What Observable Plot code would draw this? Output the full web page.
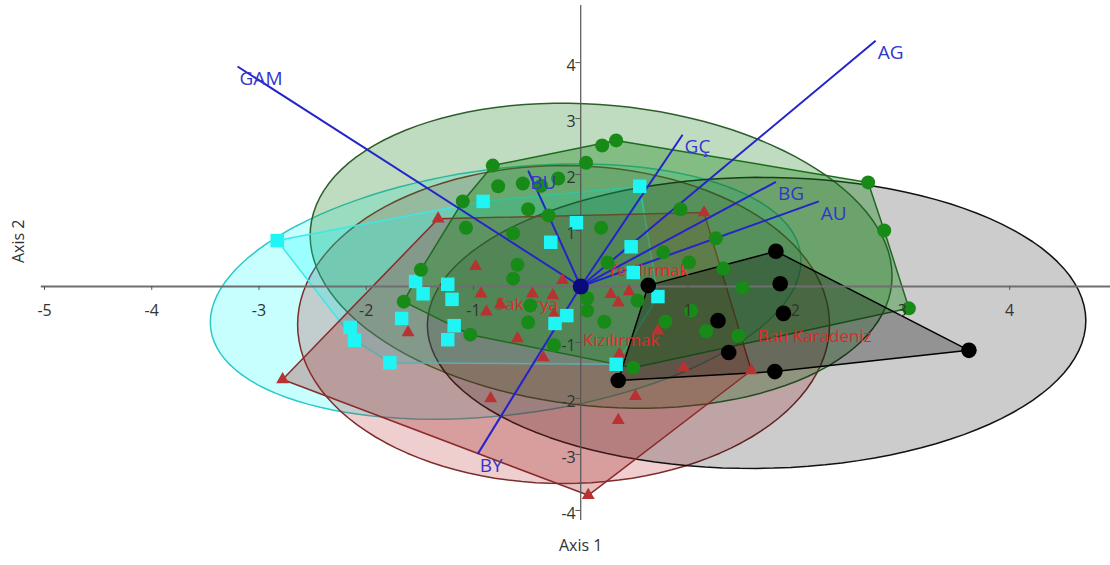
<!DOCTYPE html>
<html><head><meta charset="utf-8">
<script src="https://cdn.jsdelivr.net/npm/d3@7"></script>
<script src="https://cdn.jsdelivr.net/npm/@observablehq/plot@0.6"></script>
<style>body{margin:0;background:#fff} #chart svg{display:block}</style>
</head><body><div id="chart"></div><script>
// ---------- DATA ----------
const groupNames = ["Kızılırmak", "Sakarya", "Yeşilırmak", "Batı Karadeniz"];

// Kızılırmak (red triangles)
const kizX = [-1.33, 1.15, -0.98, -0.93, -0.88, -1.61, -2.78, -0.84, -0.75, -0.45, -0.26, -0.17, 0.28, 0.35, 0.45, -0.25, -0.59, -0.35, 0.36, 0.51, 0.96, 1.59, 0.35, 0.07, 0.72];
const kizY = [1.21, 1.32, 0.36, -0.13, -0.45, -0.82, -1.66, -2.00, -0.32, -0.13, -0.16, 0.11, -0.14, -0.29, -0.09, -0.50, -0.93, -1.27, -1.21, -1.96, -1.45, -1.50, -2.39, -3.73, -0.79];

// Sakarya (cyan squares)
const sakX = [-2.83, -0.91, 0.55, -0.04, -0.28, 0.47, 0.49, 0.72, -1.54, -1.47, -1.24, -1.20, -1.67, -2.15, -2.11, -1.18, -1.24, -1.78, -0.24, -0.13, 0.33];
const sakY = [0.82, 1.52, 1.79, 1.14, 0.79, 0.71, 0.25, -0.18, 0.09, -0.13, 0.04, -0.23, -0.57, -0.73, -0.96, -0.70, -0.95, -1.36, -0.66, -0.52, -1.39];

// Yeşilırmak (green circles)
const yesX = [-0.82, 0.20, 0.33, 0.05, -0.77, -0.54, -0.37, -0.21, -1.10, -1.07, -0.49, -0.30, -0.63, 0.19, 0.93, -1.49, -0.59, -0.63, 0.77, 1.01, 1.33, 1.26, 1.51, 1.03, 1.17, 1.47, 0.79, 0.53, 0.22, 0.06, 0.06, 0.49, -0.25, -0.49, -0.47, -1.03, -1.65, 2.68, 2.83, 3.06, 0.25];
const yesY = [2.16, 2.52, 2.61, 2.21, 1.79, 1.84, 1.80, 1.93, 1.52, 1.05, 1.38, 1.27, 0.95, 1.05, 1.38, 0.30, 0.39, 0.14, 0.61, 0.43, 0.32, 0.86, -0.02, -0.43, -0.80, -0.88, -0.63, -0.25, -0.63, -0.21, -0.43, -1.45, -1.05, -0.64, -0.34, -0.86, -0.27, 1.86, 1.00, -0.39, 0.43];

// Batı Karadeniz (black circles)
const batX = [0.63, 1.82, 1.86, 1.89, 1.28, 1.38, 0.35, 1.81, 3.62];
const batY = [0.02, 0.63, 0.05, -0.48, -0.61, -1.18, -1.68, -1.52, -1.14];

// Biplot variable vectors
const varNames = ["GAM", "AG", "GÇ", "BG", "AU", "BU", "BY"];
const varX = [-3.20, 2.75, 0.95, 1.82, 2.22, -0.49, -0.96];
const varY = [3.93, 4.39, 2.71, 1.87, 1.52, 2.07, -2.99];

// Group label anchors
const labelX = [0.02, -0.79, 0.25, 1.65];
const labelY = [-0.96, -0.32, 0.29, -0.89];

// 95% ellipses: centre and two conjugate semi-axes (data units)
const ellCx = [-0.16, -0.70, 0.19, 1.64];
const ellCy = [-0.68, -0.09, 0.55, -0.65];
const ellUx = [2.48, 2.75, 2.71, 3.07];
const ellUy = [0.00, 0.67, -0.49, 0.04];
const ellVx = [0.00, 0.15, -0.13, 0.00];
const ellVy = [2.84, -2.18, -2.68, 2.60];

const xTicks = [-5, -4, -3, -2, -1, 1, 2, 3, 4];
const yTicks = [-4, -3, -2, -1, 1, 2, 3, 4];

// ---------- BUILD ----------
const seriesX = [kizX, sakX, yesX, batX];
const seriesY = [kizY, sakY, yesY, batY];
const points = [];
groupNames.forEach((g, i) => seriesX[i].forEach((x, j) => points.push({g, x, y: seriesY[i][j]})));

const ellPts = [];
groupNames.forEach((g, i) => {
  for (let k = 0; k < 120; k++) {
    const t = 2 * Math.PI * k / 120;
    ellPts.push({g,
      x: ellCx[i] + ellUx[i] * Math.cos(t) + ellVx[i] * Math.sin(t),
      y: ellCy[i] + ellUy[i] * Math.cos(t) + ellVy[i] * Math.sin(t)});
  }
});

const vectors = varNames.map((n, i) => ({n, x: varX[i], y: varY[i]}));
const labels = groupNames.map((g, i) => ({g, x: labelX[i], y: labelY[i]}));

const sty = {
  "Kızılırmak":     {pt: "#b83232", sym: "triangle", r: 4.8, ef: "#b22222", eo: 0.22, es: "#7d2c2c", hf: "#a52a2a", ho: 0.30, hs: "#8a2b2b"},
  "Sakarya":        {pt: "#1ff5f5", sym: "square",   r: 7.6, ef: "#00ffff", eo: 0.22, es: "#2cc9c9", hf: "#00ffff", ho: 0.22, hs: "#3fe6e6"},
  "Yeşilırmak":     {pt: "#178a17", sym: "circle",   r: 7.0, ef: "#2e8b2e", eo: 0.30, es: "#2d5f2d", hf: "#228b22", ho: 0.38, hs: "#1f6a1f"},
  "Batı Karadeniz": {pt: "#000000", sym: "circle",   r: 7.8, ef: "#000000", eo: 0.20, es: "#111111", hf: "#000000", ho: 0.28, hs: "#000000"}
};

const ellOrder = ["Sakarya", "Kızılırmak", "Yeşilırmak", "Batı Karadeniz"];
const hullOrder = ["Sakarya", "Kızılırmak", "Yeşilırmak", "Batı Karadeniz"];
const font = "'Open Sans', 'Noto Sans', sans-serif";

const marks = [];
ellOrder.forEach(g => {
  const s = sty[g];
  marks.push(Plot.line(ellPts.filter(d => d.g === g), {x: "x", y: "y", curve: "linear-closed",
    fill: s.ef, fillOpacity: s.eo, stroke: s.es, strokeWidth: 1.5}));
});
hullOrder.forEach(g => {
  const s = sty[g];
  marks.push(Plot.hull(points.filter(d => d.g === g), {x: "x", y: "y",
    fill: s.hf, fillOpacity: s.ho, stroke: s.hs, strokeWidth: 1.5}));
});
// axes
marks.push(Plot.ruleY([0], {stroke: "#6e6e6e", strokeWidth: 2}));
marks.push(Plot.ruleX([0], {stroke: "#555", strokeWidth: 1.2}));
marks.push(Plot.ruleX(xTicks, {x: d => d, y1: 0, y2: -0.07, stroke: "#555"}));
marks.push(Plot.ruleY(yTicks, {y: d => d, x1: 0, x2: -0.045, stroke: "#555"}));
// vectors
marks.push(Plot.link(vectors, {x1: () => 0, y1: () => 0, x2: "x", y2: "y", stroke: "#2424c8", strokeWidth: 2}));
// group labels
marks.push(Plot.text(labels, {x: "x", y: "y", text: "g", textAnchor: "start", fill: "#e5262a",
  fontSize: 17, fontFamily: font}));
// points
groupNames.forEach(g => {
  const s = sty[g];
  marks.push(Plot.dot(points.filter(d => d.g === g), {x: "x", y: "y", symbol: s.sym, r: s.r, fill: s.pt, stroke: "none"}));
});
marks.push(Plot.dot([0], {x: () => 0, y: () => 0, r: 8, fill: "#0a0a7a"}));
// vector labels
marks.push(Plot.text(vectors, {x: "x", y: "y", text: "n", textAnchor: "start", dx: 2, dy: 12,
  fill: "#3535cc", fontSize: 19, fontFamily: font}));
// tick labels
marks.push(Plot.text(xTicks, {x: d => d, y: () => 0, text: d => String(d), dy: 24, fill: "#333",
  fontSize: 16, fontFamily: font}));
marks.push(Plot.text(yTicks, {x: () => 0, y: d => d, text: d => String(d), textAnchor: "end", dx: -5, dy: 3,
  fill: "#333", fontSize: 16, fontFamily: font}));
// axis titles
marks.push(Plot.text(["Axis 1"], {x: () => 0, frameAnchor: "bottom", dy: 30, fill: "#333", fontSize: 16, fontFamily: font}));
marks.push(Plot.text(["Axis 2"], {frameAnchor: "left", dx: -22, rotate: -90, fill: "#333", fontSize: 16, fontFamily: font}));

const chart = Plot.plot({
  width: 1110, height: 565,
  marginLeft: 40.8, marginRight: 0, marginTop: 5, marginBottom: 45,
  x: {domain: [-5.03, 4.94], axis: null},
  y: {domain: [-4.18, 5.02], axis: null},
  style: {background: "#fff", overflow: "visible"},
  marks
});
document.getElementById("chart").appendChild(chart);
</script></body></html>
